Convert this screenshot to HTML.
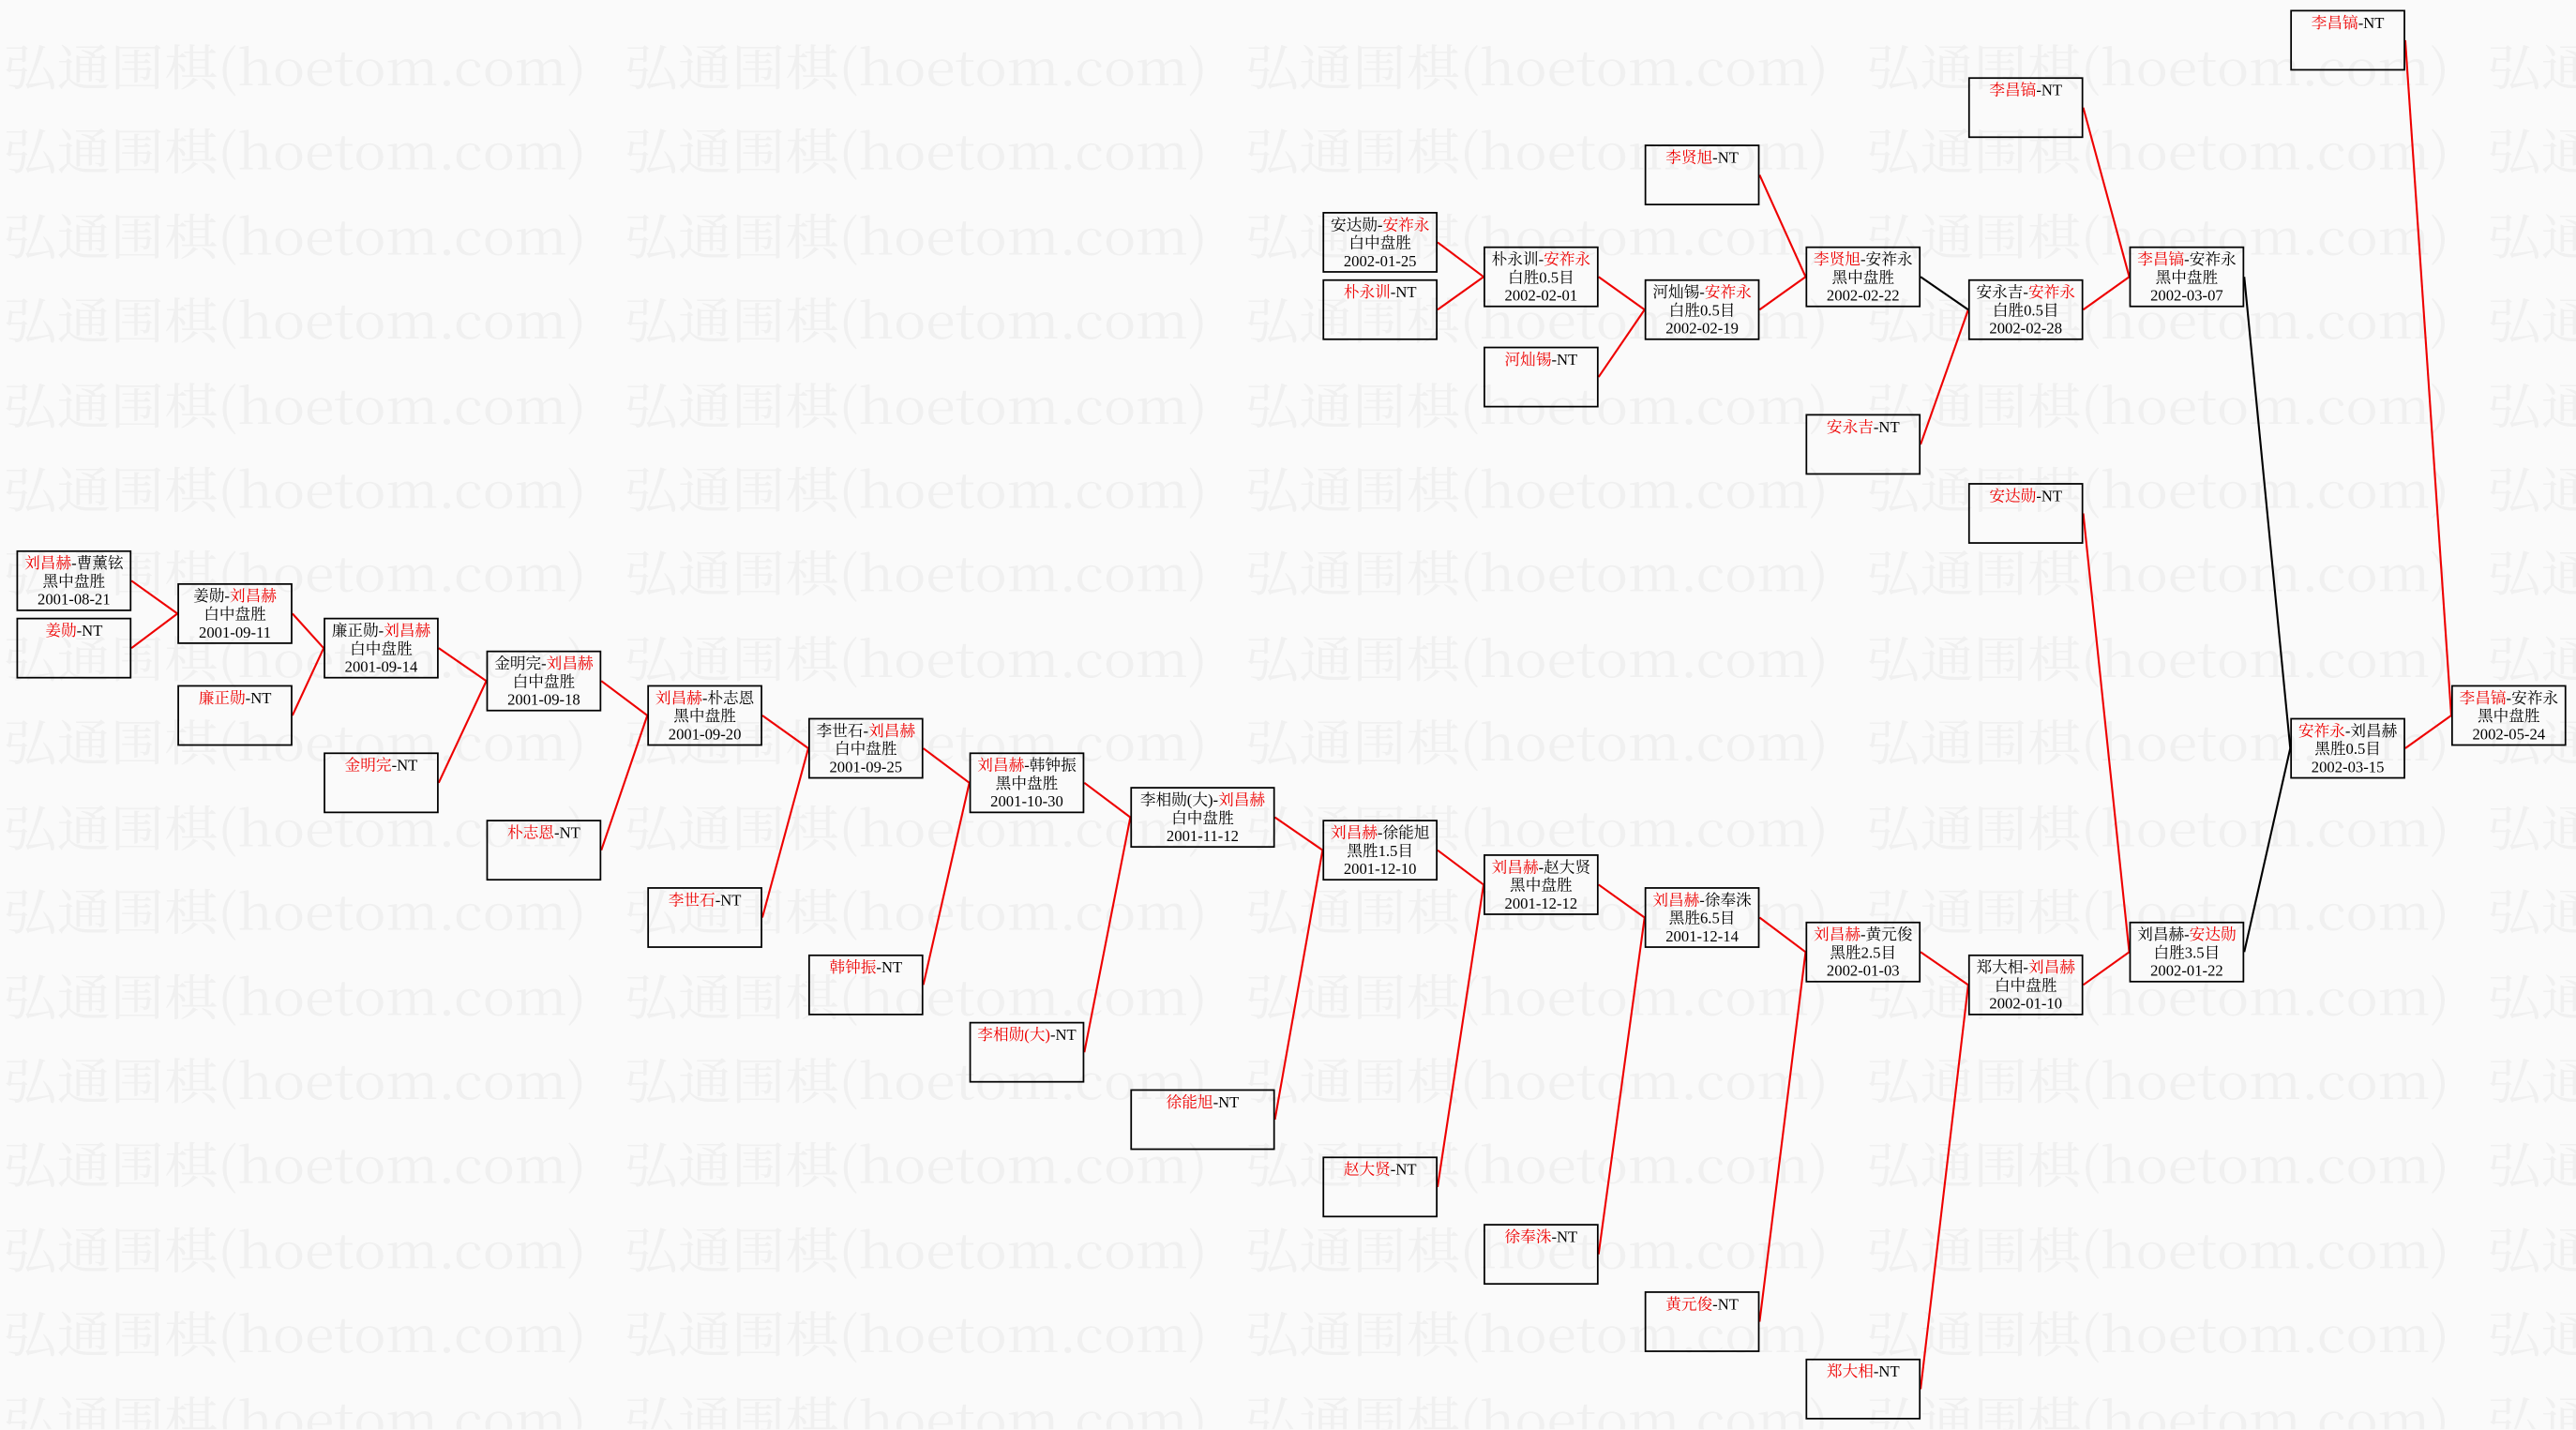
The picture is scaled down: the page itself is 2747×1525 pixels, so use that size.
<!DOCTYPE html>
<html><head><meta charset="utf-8"><style>
html,body{margin:0;padding:0;background:#fafafa;}
#wrap{position:relative;width:2747px;height:1525px;overflow:hidden;background:#fafafa;}
#c{position:absolute;left:0;top:0;width:1568px;height:870px;transform:scale(1.752);transform-origin:0 0;}
.b{position:absolute;width:70px;height:37px;border:1.2px solid #000;box-sizing:border-box;text-align:center;font-family:"Liberation Serif","Noto Serif CJK SC",serif;font-size:9.5px;line-height:11px;padding-top:2.5px;white-space:nowrap;color:#000;}
.w{width:88px;}
.r{color:#e00;}
svg{position:absolute;left:0;top:0;}
</style></head><body><div id="wrap"><div id="c">
<svg width="1568" height="870" viewBox="0 0 1568 870">
<g fill="#f0f0f0" font-family="Noto Serif CJK SC,serif" font-size="30">
<text x="2" y="52" textLength="355" lengthAdjust="spacingAndGlyphs">弘通围棋(hoetom.com)</text><text x="380" y="52" textLength="355" lengthAdjust="spacingAndGlyphs">弘通围棋(hoetom.com)</text><text x="758" y="52" textLength="355" lengthAdjust="spacingAndGlyphs">弘通围棋(hoetom.com)</text><text x="1136" y="52" textLength="355" lengthAdjust="spacingAndGlyphs">弘通围棋(hoetom.com)</text><text x="1514" y="52" textLength="355" lengthAdjust="spacingAndGlyphs">弘通围棋(hoetom.com)</text>
<text x="2" y="103" textLength="355" lengthAdjust="spacingAndGlyphs">弘通围棋(hoetom.com)</text><text x="380" y="103" textLength="355" lengthAdjust="spacingAndGlyphs">弘通围棋(hoetom.com)</text><text x="758" y="103" textLength="355" lengthAdjust="spacingAndGlyphs">弘通围棋(hoetom.com)</text><text x="1136" y="103" textLength="355" lengthAdjust="spacingAndGlyphs">弘通围棋(hoetom.com)</text><text x="1514" y="103" textLength="355" lengthAdjust="spacingAndGlyphs">弘通围棋(hoetom.com)</text>
<text x="2" y="155" textLength="355" lengthAdjust="spacingAndGlyphs">弘通围棋(hoetom.com)</text><text x="380" y="155" textLength="355" lengthAdjust="spacingAndGlyphs">弘通围棋(hoetom.com)</text><text x="758" y="155" textLength="355" lengthAdjust="spacingAndGlyphs">弘通围棋(hoetom.com)</text><text x="1136" y="155" textLength="355" lengthAdjust="spacingAndGlyphs">弘通围棋(hoetom.com)</text><text x="1514" y="155" textLength="355" lengthAdjust="spacingAndGlyphs">弘通围棋(hoetom.com)</text>
<text x="2" y="206" textLength="355" lengthAdjust="spacingAndGlyphs">弘通围棋(hoetom.com)</text><text x="380" y="206" textLength="355" lengthAdjust="spacingAndGlyphs">弘通围棋(hoetom.com)</text><text x="758" y="206" textLength="355" lengthAdjust="spacingAndGlyphs">弘通围棋(hoetom.com)</text><text x="1136" y="206" textLength="355" lengthAdjust="spacingAndGlyphs">弘通围棋(hoetom.com)</text><text x="1514" y="206" textLength="355" lengthAdjust="spacingAndGlyphs">弘通围棋(hoetom.com)</text>
<text x="2" y="258" textLength="355" lengthAdjust="spacingAndGlyphs">弘通围棋(hoetom.com)</text><text x="380" y="258" textLength="355" lengthAdjust="spacingAndGlyphs">弘通围棋(hoetom.com)</text><text x="758" y="258" textLength="355" lengthAdjust="spacingAndGlyphs">弘通围棋(hoetom.com)</text><text x="1136" y="258" textLength="355" lengthAdjust="spacingAndGlyphs">弘通围棋(hoetom.com)</text><text x="1514" y="258" textLength="355" lengthAdjust="spacingAndGlyphs">弘通围棋(hoetom.com)</text>
<text x="2" y="309" textLength="355" lengthAdjust="spacingAndGlyphs">弘通围棋(hoetom.com)</text><text x="380" y="309" textLength="355" lengthAdjust="spacingAndGlyphs">弘通围棋(hoetom.com)</text><text x="758" y="309" textLength="355" lengthAdjust="spacingAndGlyphs">弘通围棋(hoetom.com)</text><text x="1136" y="309" textLength="355" lengthAdjust="spacingAndGlyphs">弘通围棋(hoetom.com)</text><text x="1514" y="309" textLength="355" lengthAdjust="spacingAndGlyphs">弘通围棋(hoetom.com)</text>
<text x="2" y="360" textLength="355" lengthAdjust="spacingAndGlyphs">弘通围棋(hoetom.com)</text><text x="380" y="360" textLength="355" lengthAdjust="spacingAndGlyphs">弘通围棋(hoetom.com)</text><text x="758" y="360" textLength="355" lengthAdjust="spacingAndGlyphs">弘通围棋(hoetom.com)</text><text x="1136" y="360" textLength="355" lengthAdjust="spacingAndGlyphs">弘通围棋(hoetom.com)</text><text x="1514" y="360" textLength="355" lengthAdjust="spacingAndGlyphs">弘通围棋(hoetom.com)</text>
<text x="2" y="412" textLength="355" lengthAdjust="spacingAndGlyphs">弘通围棋(hoetom.com)</text><text x="380" y="412" textLength="355" lengthAdjust="spacingAndGlyphs">弘通围棋(hoetom.com)</text><text x="758" y="412" textLength="355" lengthAdjust="spacingAndGlyphs">弘通围棋(hoetom.com)</text><text x="1136" y="412" textLength="355" lengthAdjust="spacingAndGlyphs">弘通围棋(hoetom.com)</text><text x="1514" y="412" textLength="355" lengthAdjust="spacingAndGlyphs">弘通围棋(hoetom.com)</text>
<text x="2" y="463" textLength="355" lengthAdjust="spacingAndGlyphs">弘通围棋(hoetom.com)</text><text x="380" y="463" textLength="355" lengthAdjust="spacingAndGlyphs">弘通围棋(hoetom.com)</text><text x="758" y="463" textLength="355" lengthAdjust="spacingAndGlyphs">弘通围棋(hoetom.com)</text><text x="1136" y="463" textLength="355" lengthAdjust="spacingAndGlyphs">弘通围棋(hoetom.com)</text><text x="1514" y="463" textLength="355" lengthAdjust="spacingAndGlyphs">弘通围棋(hoetom.com)</text>
<text x="2" y="515" textLength="355" lengthAdjust="spacingAndGlyphs">弘通围棋(hoetom.com)</text><text x="380" y="515" textLength="355" lengthAdjust="spacingAndGlyphs">弘通围棋(hoetom.com)</text><text x="758" y="515" textLength="355" lengthAdjust="spacingAndGlyphs">弘通围棋(hoetom.com)</text><text x="1136" y="515" textLength="355" lengthAdjust="spacingAndGlyphs">弘通围棋(hoetom.com)</text><text x="1514" y="515" textLength="355" lengthAdjust="spacingAndGlyphs">弘通围棋(hoetom.com)</text>
<text x="2" y="566" textLength="355" lengthAdjust="spacingAndGlyphs">弘通围棋(hoetom.com)</text><text x="380" y="566" textLength="355" lengthAdjust="spacingAndGlyphs">弘通围棋(hoetom.com)</text><text x="758" y="566" textLength="355" lengthAdjust="spacingAndGlyphs">弘通围棋(hoetom.com)</text><text x="1136" y="566" textLength="355" lengthAdjust="spacingAndGlyphs">弘通围棋(hoetom.com)</text><text x="1514" y="566" textLength="355" lengthAdjust="spacingAndGlyphs">弘通围棋(hoetom.com)</text>
<text x="2" y="618" textLength="355" lengthAdjust="spacingAndGlyphs">弘通围棋(hoetom.com)</text><text x="380" y="618" textLength="355" lengthAdjust="spacingAndGlyphs">弘通围棋(hoetom.com)</text><text x="758" y="618" textLength="355" lengthAdjust="spacingAndGlyphs">弘通围棋(hoetom.com)</text><text x="1136" y="618" textLength="355" lengthAdjust="spacingAndGlyphs">弘通围棋(hoetom.com)</text><text x="1514" y="618" textLength="355" lengthAdjust="spacingAndGlyphs">弘通围棋(hoetom.com)</text>
<text x="2" y="669" textLength="355" lengthAdjust="spacingAndGlyphs">弘通围棋(hoetom.com)</text><text x="380" y="669" textLength="355" lengthAdjust="spacingAndGlyphs">弘通围棋(hoetom.com)</text><text x="758" y="669" textLength="355" lengthAdjust="spacingAndGlyphs">弘通围棋(hoetom.com)</text><text x="1136" y="669" textLength="355" lengthAdjust="spacingAndGlyphs">弘通围棋(hoetom.com)</text><text x="1514" y="669" textLength="355" lengthAdjust="spacingAndGlyphs">弘通围棋(hoetom.com)</text>
<text x="2" y="720" textLength="355" lengthAdjust="spacingAndGlyphs">弘通围棋(hoetom.com)</text><text x="380" y="720" textLength="355" lengthAdjust="spacingAndGlyphs">弘通围棋(hoetom.com)</text><text x="758" y="720" textLength="355" lengthAdjust="spacingAndGlyphs">弘通围棋(hoetom.com)</text><text x="1136" y="720" textLength="355" lengthAdjust="spacingAndGlyphs">弘通围棋(hoetom.com)</text><text x="1514" y="720" textLength="355" lengthAdjust="spacingAndGlyphs">弘通围棋(hoetom.com)</text>
<text x="2" y="772" textLength="355" lengthAdjust="spacingAndGlyphs">弘通围棋(hoetom.com)</text><text x="380" y="772" textLength="355" lengthAdjust="spacingAndGlyphs">弘通围棋(hoetom.com)</text><text x="758" y="772" textLength="355" lengthAdjust="spacingAndGlyphs">弘通围棋(hoetom.com)</text><text x="1136" y="772" textLength="355" lengthAdjust="spacingAndGlyphs">弘通围棋(hoetom.com)</text><text x="1514" y="772" textLength="355" lengthAdjust="spacingAndGlyphs">弘通围棋(hoetom.com)</text>
<text x="2" y="823" textLength="355" lengthAdjust="spacingAndGlyphs">弘通围棋(hoetom.com)</text><text x="380" y="823" textLength="355" lengthAdjust="spacingAndGlyphs">弘通围棋(hoetom.com)</text><text x="758" y="823" textLength="355" lengthAdjust="spacingAndGlyphs">弘通围棋(hoetom.com)</text><text x="1136" y="823" textLength="355" lengthAdjust="spacingAndGlyphs">弘通围棋(hoetom.com)</text><text x="1514" y="823" textLength="355" lengthAdjust="spacingAndGlyphs">弘通围棋(hoetom.com)</text>
<text x="2" y="875" textLength="355" lengthAdjust="spacingAndGlyphs">弘通围棋(hoetom.com)</text><text x="380" y="875" textLength="355" lengthAdjust="spacingAndGlyphs">弘通围棋(hoetom.com)</text><text x="758" y="875" textLength="355" lengthAdjust="spacingAndGlyphs">弘通围棋(hoetom.com)</text><text x="1136" y="875" textLength="355" lengthAdjust="spacingAndGlyphs">弘通围棋(hoetom.com)</text><text x="1514" y="875" textLength="355" lengthAdjust="spacingAndGlyphs">弘通围棋(hoetom.com)</text>
</g>
<g stroke="#e00" stroke-width="1.2" fill="none">
<line x1="80" y1="353.5" x2="108" y2="373.5"/><line x1="80" y1="394.5" x2="108" y2="373.5"/>
<line x1="178" y1="373.5" x2="197" y2="394.5"/><line x1="178" y1="435.5" x2="197" y2="394.5"/>
<line x1="267" y1="394.5" x2="296" y2="414.5"/><line x1="267" y1="476.5" x2="296" y2="414.5"/>
<line x1="366" y1="414.5" x2="394" y2="435.5"/><line x1="366" y1="517.5" x2="394" y2="435.5"/>
<line x1="464" y1="435.5" x2="492" y2="455.5"/><line x1="464" y1="558.5" x2="492" y2="455.5"/>
<line x1="562" y1="455.5" x2="590" y2="476.5"/><line x1="562" y1="599.5" x2="590" y2="476.5"/>
<line x1="660" y1="476.5" x2="688" y2="497.5"/><line x1="660" y1="640.5" x2="688" y2="497.5"/>
<line x1="776" y1="497.5" x2="805" y2="517.5"/><line x1="776" y1="681.5" x2="805" y2="517.5"/>
<line x1="875" y1="517.5" x2="903" y2="538.5"/><line x1="875" y1="722.5" x2="903" y2="538.5"/>
<line x1="973" y1="538.5" x2="1001" y2="558.5"/><line x1="973" y1="763.5" x2="1001" y2="558.5"/>
<line x1="1071" y1="558.5" x2="1099" y2="579.5"/><line x1="1071" y1="804.5" x2="1099" y2="579.5"/>
<line x1="1169" y1="579.5" x2="1198" y2="599.5"/><line x1="1169" y1="845.5" x2="1198" y2="599.5"/>
<line x1="1268" y1="599.5" x2="1296" y2="579.5"/><line x1="1268" y1="312.5" x2="1296" y2="579.5"/>
<line x1="1464" y1="455.5" x2="1492" y2="435.5"/><line x1="1464" y1="24.5" x2="1492" y2="435.5"/>
<line x1="875" y1="147.5" x2="903" y2="168.5"/><line x1="875" y1="188.5" x2="903" y2="168.5"/>
<line x1="973" y1="168.5" x2="1001" y2="188.5"/><line x1="973" y1="229.5" x2="1001" y2="188.5"/>
<line x1="1071" y1="106.5" x2="1099" y2="168.5"/><line x1="1071" y1="188.5" x2="1099" y2="168.5"/>
<line x1="1169" y1="270.5" x2="1198" y2="188.5"/>
<line x1="1268" y1="188.5" x2="1296" y2="168.5"/><line x1="1268" y1="65.5" x2="1296" y2="168.5"/>
</g>
<g stroke="#000" stroke-width="1.2" fill="none">
<line x1="1366" y1="579.5" x2="1394" y2="455.5"/><line x1="1366" y1="168.5" x2="1394" y2="455.5"/>
<line x1="1169" y1="168.5" x2="1198" y2="188.5"/>
</g>
</svg>

<div class="b" style="left:10px;top:335px"><span class="r">刘昌赫</span>-曹薰铉<br>黑中盘胜<br>2001-08-21</div>
<div class="b" style="left:10px;top:376px"><span class="r">姜勋</span>-NT</div>
<div class="b" style="left:108px;top:355px">姜勋-<span class="r">刘昌赫</span><br>白中盘胜<br>2001-09-11</div>
<div class="b" style="left:108px;top:417px"><span class="r">廉正勋</span>-NT</div>
<div class="b" style="left:197px;top:376px">廉正勋-<span class="r">刘昌赫</span><br>白中盘胜<br>2001-09-14</div>
<div class="b" style="left:197px;top:458px"><span class="r">金明完</span>-NT</div>
<div class="b" style="left:296px;top:396px">金明完-<span class="r">刘昌赫</span><br>白中盘胜<br>2001-09-18</div>
<div class="b" style="left:296px;top:499px"><span class="r">朴志恩</span>-NT</div>
<div class="b" style="left:394px;top:417px"><span class="r">刘昌赫</span>-朴志恩<br>黑中盘胜<br>2001-09-20</div>
<div class="b" style="left:394px;top:540px"><span class="r">李世石</span>-NT</div>
<div class="b" style="left:492px;top:437px">李世石-<span class="r">刘昌赫</span><br>白中盘胜<br>2001-09-25</div>
<div class="b" style="left:492px;top:581px"><span class="r">韩钟振</span>-NT</div>
<div class="b" style="left:590px;top:458px"><span class="r">刘昌赫</span>-韩钟振<br>黑中盘胜<br>2001-10-30</div>
<div class="b" style="left:590px;top:622px"><span class="r">李相勋(大)</span>-NT</div>
<div class="b w" style="left:688px;top:479px">李相勋(大)-<span class="r">刘昌赫</span><br>白中盘胜<br>2001-11-12</div>
<div class="b w" style="left:688px;top:663px"><span class="r">徐能旭</span>-NT</div>
<div class="b" style="left:805px;top:499px"><span class="r">刘昌赫</span>-徐能旭<br>黑胜1.5目<br>2001-12-10</div>
<div class="b" style="left:805px;top:704px"><span class="r">赵大贤</span>-NT</div>
<div class="b" style="left:903px;top:520px"><span class="r">刘昌赫</span>-赵大贤<br>黑中盘胜<br>2001-12-12</div>
<div class="b" style="left:903px;top:745px"><span class="r">徐奉洙</span>-NT</div>
<div class="b" style="left:1001px;top:540px"><span class="r">刘昌赫</span>-徐奉洙<br>黑胜6.5目<br>2001-12-14</div>
<div class="b" style="left:1001px;top:786px"><span class="r">黄元俊</span>-NT</div>
<div class="b" style="left:1099px;top:561px"><span class="r">刘昌赫</span>-黄元俊<br>黑胜2.5目<br>2002-01-03</div>
<div class="b" style="left:1099px;top:827px"><span class="r">郑大相</span>-NT</div>
<div class="b" style="left:1198px;top:581px">郑大相-<span class="r">刘昌赫</span><br>白中盘胜<br>2002-01-10</div>
<div class="b" style="left:1198px;top:294px"><span class="r">安达勋</span>-NT</div>
<div class="b" style="left:1296px;top:561px">刘昌赫-<span class="r">安达勋</span><br>白胜3.5目<br>2002-01-22</div>
<div class="b" style="left:1394px;top:437px"><span class="r">安祚永</span>-刘昌赫<br>黑胜0.5目<br>2002-03-15</div>
<div class="b" style="left:1492px;top:417px"><span class="r">李昌镐</span>-安祚永<br>黑中盘胜<br>2002-05-24</div>
<div class="b" style="left:1394px;top:6px"><span class="r">李昌镐</span>-NT</div>
<div class="b" style="left:805px;top:129px">安达勋-<span class="r">安祚永</span><br>白中盘胜<br>2002-01-25</div>
<div class="b" style="left:805px;top:170px"><span class="r">朴永训</span>-NT</div>
<div class="b" style="left:903px;top:150px">朴永训-<span class="r">安祚永</span><br>白胜0.5目<br>2002-02-01</div>
<div class="b" style="left:903px;top:211px"><span class="r">河灿锡</span>-NT</div>
<div class="b" style="left:1001px;top:88px"><span class="r">李贤旭</span>-NT</div>
<div class="b" style="left:1001px;top:170px">河灿锡-<span class="r">安祚永</span><br>白胜0.5目<br>2002-02-19</div>
<div class="b" style="left:1099px;top:150px"><span class="r">李贤旭</span>-安祚永<br>黑中盘胜<br>2002-02-22</div>
<div class="b" style="left:1099px;top:252px"><span class="r">安永吉</span>-NT</div>
<div class="b" style="left:1198px;top:47px"><span class="r">李昌镐</span>-NT</div>
<div class="b" style="left:1198px;top:170px">安永吉-<span class="r">安祚永</span><br>白胜0.5目<br>2002-02-28</div>
<div class="b" style="left:1296px;top:150px"><span class="r">李昌镐</span>-安祚永<br>黑中盘胜<br>2002-03-07</div>
</div></div></body></html>
